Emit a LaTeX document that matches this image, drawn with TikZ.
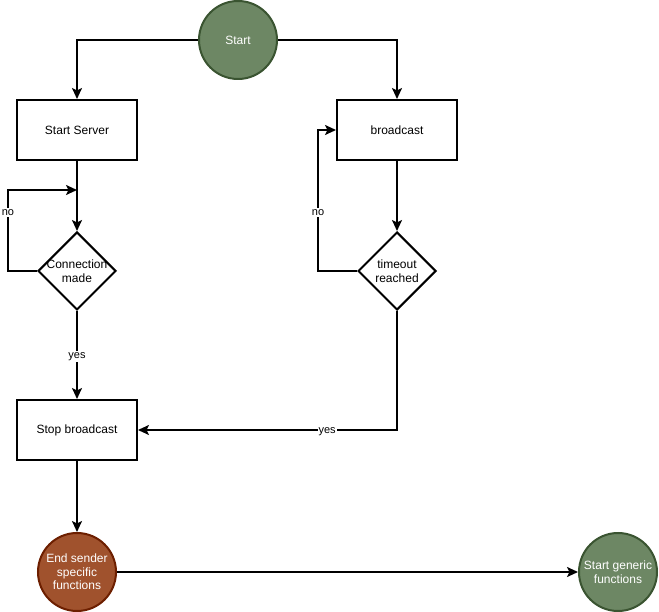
\documentclass[tikz,border=0pt]{standalone}
\usepackage{fontspec}
\setmainfont{Liberation Sans}
\usetikzlibrary{arrows.meta,shapes.geometric}
\definecolor{greenfill}{HTML}{6D8764}
\definecolor{greenline}{HTML}{3A5431}
\definecolor{brownfill}{HTML}{A0522D}
\definecolor{brownline}{HTML}{6D1F00}
\newcommand{\ctr}[1]{\makebox[0pt]{#1}}
\tikzset{
  every node/.style={font=\fontsize{12}{13.5}\selectfont, align=center, inner sep=0pt},
  procbox/.style={draw=black, line width=2pt, fill=white, minimum width=120pt, minimum height=60pt},
  decision/.style={draw=black, line width=2pt, fill=white, diamond, minimum width=78pt, minimum height=78pt, aspect=1},
  termgreen/.style={circle, draw=greenline, fill=greenfill, line width=2pt, minimum size=78pt, text=white},
  termbrown/.style={circle, draw=brownline, fill=brownfill, line width=2pt, minimum size=78pt, text=white},
  flow/.style={line width=2pt, -{Stealth[length=11pt,width=10pt,inset=2.5pt]}},
  edgelabel/.style={font=\fontsize{11}{13}\selectfont, fill=white, inner sep=1pt, yshift=-1.5pt}
}
\begin{document}
\begin{tikzpicture}[x=1pt,y=-1pt]
\useasboundingbox (0,0) rectangle (659,612);

% nodes
\node[termgreen] (start) at (238,40) {Start};
\node[procbox] (server) at (77,130) {Start Server};
\node[procbox] (bcast) at (397,130) {broadcast};
\node[decision] (conn) at (77,271) {\ctr{Connection}\\\ctr{made}};
\node[decision] (tout) at (397,271) {\ctr{timeout}\\\ctr{reached}};
\node[procbox] (stop) at (77,430) {Stop broadcast};
\node[termbrown] (endsend) at (77,572) {End sender\\specific\\functions};
\node[termgreen] (generic) at (618,572) {Start generic\\functions};

\coordinate (connjoin) at (77,190);
\coordinate (bcastjoin) at (bcast.west);

% connectors
\draw[flow] (start.west) -| (server.north);
\draw[flow] (start.east) -| (bcast.north);
\draw[flow] (server.south) -- (conn.north);
\draw[flow] (conn.west) -- (8,271) -- (8,190) -- (connjoin);
\node[edgelabel] at (8,211) {no};
\draw[flow] (bcast.south) -- (tout.north);
\draw[flow] (tout.west) -- (318,271) -- (318,130) -- (bcastjoin);
\node[edgelabel] at (318,211) {no};
\draw[flow] (conn.south) -- node[edgelabel] {yes} (stop.north);
\draw[flow] (tout.south) |- node[edgelabel, pos=0.635] {yes} (stop.east);
\draw[flow] (stop.south) -- (endsend.north);
\draw[flow] (endsend.east) -- (generic.west);
\end{tikzpicture}
\end{document}
